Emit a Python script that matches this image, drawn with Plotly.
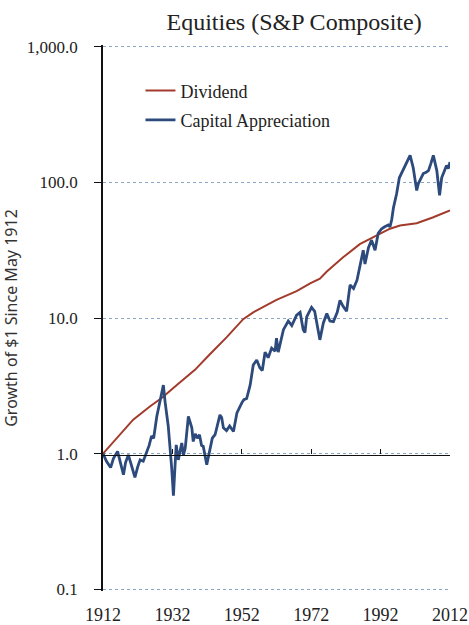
import plotly.graph_objects as go

# Capital appreciation (growth of $1 since May 1912)
cap_years = [1912.0, 1913.0, 1914.2, 1915.0, 1916.2, 1917.0, 1917.9, 1918.5, 1919.3, 1920.2,
             1921.2, 1922.0, 1922.7, 1923.6, 1924.5, 1925.3, 1926.0, 1926.6, 1927.5, 1928.3,
             1929.0, 1929.4, 1929.9, 1930.8, 1931.8, 1932.3, 1932.8, 1933.1, 1933.7, 1934.2,
             1934.7, 1935.2, 1935.7, 1936.6, 1937.1, 1937.6, 1938.0, 1938.6, 1939.2, 1939.8,
             1940.4, 1940.9, 1941.9, 1942.8, 1943.5, 1944.3, 1945.0, 1945.7, 1946.2, 1946.7,
             1947.6, 1948.5, 1949.1, 1949.6, 1950.6, 1951.3, 1952.0, 1952.6, 1953.4, 1954.4,
             1955.3, 1956.3, 1957.2, 1957.9, 1958.7, 1959.6, 1960.6, 1961.6, 1962.0, 1962.5,
             1963.0, 1964.0, 1965.4, 1966.4, 1967.8, 1968.8, 1969.7, 1970.2, 1970.7, 1972.1,
             1973.0, 1974.0, 1974.5, 1975.5, 1976.5, 1977.4, 1978.4, 1979.5, 1980.3, 1981.2,
             1982.2, 1983.2, 1984.2, 1985.2, 1986.0, 1987.0, 1987.5, 1988.5, 1989.4, 1990.4,
             1991.3, 1992.3, 1993.2, 1994.2, 1994.7, 1995.2, 1995.7, 1996.6, 1997.4, 1998.2,
             1999.0, 2000.5, 2001.4, 2002.4, 2002.9, 2003.5, 2004.3, 2005.0, 2005.8, 2006.5,
             2007.2, 2008.2, 2009.0, 2009.6, 2010.3, 2011.0, 2011.5, 2012.0]
cap_values = [1.00, 0.88, 0.79, 0.92, 1.04, 0.85, 0.70, 0.86, 0.98, 0.82,
              0.67, 0.80, 0.90, 0.88, 1.00, 1.15, 1.35, 1.30, 1.88, 2.30,
              2.80, 3.20, 2.40, 1.60, 0.78, 0.49, 0.85, 1.16, 0.90, 1.05,
              1.20, 0.98, 1.10, 1.88, 1.70, 1.55, 1.23, 1.40, 1.30, 1.38,
              1.15, 1.13, 0.83, 1.10, 1.30, 1.38, 1.60, 1.93, 1.85, 1.55,
              1.48, 1.60, 1.52, 1.46, 2.00, 2.20, 2.37, 2.50, 2.55, 3.20,
              4.50, 4.90, 4.30, 4.10, 5.60, 5.10, 6.00, 5.70, 7.10, 5.60,
              6.30, 8.20, 9.50, 8.80, 10.5, 11.0, 8.20, 7.80, 10.2, 12.0,
              11.2, 8.0, 6.9, 9.2, 10.8, 9.5, 9.4, 11.0, 13.5, 12.2,
              11.2, 17.5, 16.5, 19.0, 23.5, 31.6, 25.0, 33.0, 37.5, 31.6,
              42.0, 45.5, 47.0, 48.5, 47.0, 53.0, 65.0, 82.0, 108, 120,
              130, 158, 128, 87, 98, 105, 116, 118, 122, 138,
              158, 122, 80, 108, 120, 133, 126, 141]

# Dividend series
div_years = [1912.0, 1916.0, 1920.7, 1925.5, 1929.0, 1933.2, 1938.5, 1942.8, 1947.6, 1952.4,
             1955.3, 1962.0, 1967.8, 1971.7, 1974.5, 1976.5, 1981.2, 1986.0, 1990.9, 1994.7,
             1997.6, 2002.4, 2007.0, 2012.0]
div_values = [1.00, 1.30, 1.78, 2.23, 2.58, 3.20, 4.15, 5.40, 7.20, 9.80,
              11.0, 13.6, 15.8, 18.0, 19.5, 22.0, 28.0, 35.0, 40.5, 45.5,
              48.0, 50.0, 55.0, 62.0]

x_ticks = [1912, 1932, 1952, 1972, 1992, 2012]
y_ticks = [0.1, 1, 10, 100, 1000]
y_labels = ["0.1", "1.0", "10.0", "100.0", "1,000.0"]

serif = "Liberation Serif"

fig = go.Figure()
fig.add_trace(go.Scatter(x=div_years, y=div_values, mode="lines", name="Dividend",
                         line=dict(color="#a23b2c", width=2), legendgroup="a"))
fig.add_trace(go.Scatter(x=cap_years, y=cap_values, mode="lines", name="Capital Appreciation",
                         line=dict(color="#2d4a7c", width=2.8), legendgroup="b", xaxis="x2"))

fig.update_layout(
    width=469, height=625,
    margin=dict(l=103, r=19, t=45, b=34),
    paper_bgcolor="white", plot_bgcolor="white",
    title=dict(text="Equities (S&P Composite)", x=0.627, xanchor="center", y=0.965, yanchor="middle",
               font=dict(family=serif, size=24, color="#222")),
    xaxis=dict(range=[1912, 2012], tickvals=x_ticks, showgrid=False, showline=False,
               zeroline=False, ticks="", ticklabelstandoff=11, automargin=False,
               tickfont=dict(family=serif, size=18, color="#222")),
    xaxis2=dict(range=[1912, 2012], matches="x", overlaying="x", anchor="free", position=0.25,
                side="bottom", tickvals=x_ticks, showticklabels=False, showgrid=False,
                showline=True, linecolor="#111", linewidth=1.3, ticks="inside", ticklen=5,
                tickcolor="#111", zeroline=False, automargin=False),
    # range padded a hair so the 0.1 and 1,000 gridlines are drawn
    yaxis=dict(type="log", range=[-1.012, 3.012], tickvals=y_ticks, ticktext=y_labels,
               showline=True, linecolor="#111", linewidth=1.5, ticks="outside", ticklen=7,
               tickcolor="#111", showgrid=True, gridcolor="#8aa6c4", griddash="dot", gridwidth=1,
               zeroline=False, tickfont=dict(family=serif, size=17, color="#222"),
               ticklabelstandoff=13, automargin=False,
               title=dict(text="Growth of $1 Since May 1912", standoff=31,
                          font=dict(family="Noto Sans", size=16, color="#333"))),
    legend=dict(x=0.108, y=0.95, xanchor="left", yanchor="top", bgcolor="rgba(0,0,0,0)",
                font=dict(family=serif, size=18, color="#222"), tracegroupgap=3,
                itemwidth=30),
    showlegend=True,
)

# drop the default body margin so the 469x625 figure fills the window exactly
fig.write_html("out.html", config={"displayModeBar": False},
               post_script="document.body.style.margin='0';document.body.style.overflow='hidden';")
